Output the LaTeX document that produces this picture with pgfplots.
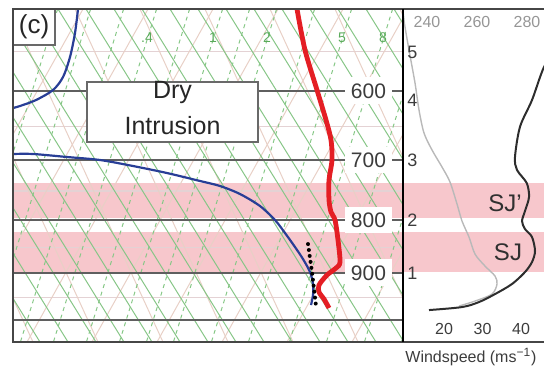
\documentclass[border=0pt]{standalone}
\usepackage{fontspec}
\setmainfont{Liberation Sans}
\usepackage{pgfplots}
\pgfplotsset{compat=1.18}
\definecolor{bandpink}{RGB}{247,199,204}
\definecolor{tred}{RGB}{228,30,36}
\definecolor{tdblue}{RGB}{40,62,150}
\definecolor{gsolid}{RGB}{135,198,135}
\definecolor{gdash}{RGB}{135,200,135}
\definecolor{tanc}{RGB}{232,208,198}
\definecolor{lightp}{RGB}{228,210,212}
\definecolor{plinec}{RGB}{95,95,95}
\definecolor{framec}{RGB}{70,70,70}
\definecolor{boxgray}{RGB}{105,105,105}
\definecolor{labc}{RGB}{60,60,60}
\definecolor{thetagray}{RGB}{185,185,185}
\definecolor{tickgray}{RGB}{150,150,150}
\definecolor{windc}{RGB}{45,45,45}
\definecolor{mrgreen}{RGB}{90,170,90}
\begin{document}
\begin{tikzpicture}[x=1pt,y=1pt]
\path[use as bounding box] (0,0) rectangle (272,183.5);
% ---------------- left panel (thermodynamic diagram) ----------------
\begin{axis}[at={(6.5pt,12.5pt)}, anchor=south west, scale only axis,
  width=195pt, height=166.5pt, xmin=13, xmax=403,
  ymode=log, ymin=500, ymax=1050, y dir=reverse,
  axis line style={draw=none}, ticks=none, clip mode=individual,
  unbounded coords=jump]
\fill[bandpink] (axis cs:13,736) rectangle (axis cs:403,797);
\fill[bandpink] (axis cs:13,821) rectangle (axis cs:403,899);
\draw[lightp, line width=0.6pt] (axis cs:13,550) -- (axis cs:403,550);
\draw[lightp, line width=0.6pt] (axis cs:13,650) -- (axis cs:403,650);
\draw[lightp, line width=0.6pt] (axis cs:13,750) -- (axis cs:403,750);
\draw[lightp, line width=0.6pt] (axis cs:13,850) -- (axis cs:403,850);
\draw[lightp, line width=0.6pt] (axis cs:13,950) -- (axis cs:403,950);
% tan lines "/"
\addplot[tanc, line width=0.5pt] coordinates {
(18,500) (-168,1050) (0,nan)
(83,500) (-103,1050) (0,nan)
(148,500) (-38,1050) (0,nan)
(213,500) (27,1050) (0,nan)
(278,500) (92,1050) (0,nan)
(343,500) (157,1050) (0,nan)
(408,500) (222,1050) (0,nan)
(473,500) (287,1050) (0,nan)
(538,500) (352,1050) (0,nan)
(603,500) (417,1050)};
% tan lines "\"
\addplot[tanc, line width=0.5pt] coordinates {
(-120,500) (33,1050) (0,nan)
(-55,500) (98,1050) (0,nan)
(10,500) (163,1050) (0,nan)
(75,500) (228,1050) (0,nan)
(140,500) (293,1050) (0,nan)
(205,500) (358,1050) (0,nan)
(270,500) (423,1050) (0,nan)
(335,500) (488,1050) (0,nan)
(400,500) (553,1050)};
% green solid lines
\addplot[gsolid, line width=0.5pt] coordinates {
(-166,500) (40,1050) (0,nan)
(-138,500) (68,1050) (0,nan)
(-110,500) (96,1050) (0,nan)
(-82,500) (124,1050) (0,nan)
(-54,500) (152,1050) (0,nan)
(-26,500) (180,1050) (0,nan)
(2,500) (208,1050) (0,nan)
(30,500) (236,1050) (0,nan)
(58,500) (264,1050) (0,nan)
(86,500) (292,1050) (0,nan)
(114,500) (320,1050) (0,nan)
(142,500) (348,1050) (0,nan)
(170,500) (376,1050) (0,nan)
(198,500) (404,1050) (0,nan)
(226,500) (432,1050) (0,nan)
(254,500) (460,1050) (0,nan)
(282,500) (488,1050) (0,nan)
(310,500) (516,1050) (0,nan)
(338,500) (544,1050) (0,nan)
(366,500) (572,1050) (0,nan)
(394,500) (600,1050)};
% green dashed lines
\addplot[gdash, line width=0.5pt, dash pattern=on 2pt off 2pt] coordinates {
(24.6,500) (-78.6,1050) (0,nan)
(57.6,500) (-45.6,1050) (0,nan)
(90.6,500) (-12.6,1050) (0,nan)
(123.6,500) (20.4,1050) (0,nan)
(156.6,500) (53.4,1050) (0,nan)
(189.6,500) (86.4,1050) (0,nan)
(222.6,500) (119.4,1050) (0,nan)
(249.6,500) (146.4,1050) (0,nan)
(276.6,500) (173.4,1050) (0,nan)
(314.6,500) (211.4,1050) (0,nan)
(351.6,500) (248.4,1050) (0,nan)
(392.6,500) (289.4,1050) (0,nan)
(429.6,500) (326.4,1050) (0,nan)
(467.6,500) (364.4,1050) (0,nan)
(504.6,500) (401.4,1050)};
% mixing ratio labels
\tikzset{mrlab/.style={text=mrgreen, font=\fontsize{7}{8}\selectfont, inner sep=0.3pt}}
\node[mrlab] at (axis cs:147,533) {.4};
\node[mrlab] at (axis cs:213,533) {1};
\node[mrlab] at (axis cs:267,533) {2};
\node[mrlab] at (axis cs:342,533) {5};
\node[mrlab] at (axis cs:383,533) {8};
% pressure lines
\draw[plinec, line width=0.8pt] (axis cs:13,600) -- (axis cs:403,600);
\draw[plinec, line width=0.8pt] (axis cs:13,700) -- (axis cs:403,700);
\draw[plinec, line width=0.8pt] (axis cs:13,800) -- (axis cs:403,800);
\draw[plinec, line width=0.8pt] (axis cs:13,900) -- (axis cs:403,900);
\draw[plinec, line width=0.8pt] (axis cs:13,1000) -- (axis cs:403,1000);
% dewpoint
\addplot[tdblue, line width=1.1pt, smooth] coordinates {
(78,500) (75,527.5) (70,556.4) (63,581.8) (53,598.9) (36,612.4) (20,620.6) (13,623.4)};
\addplot[tdblue, line width=1.1pt, smooth] coordinates {
(13,690.7) (33,690.7) (67,695.3) (100,700) (133,709.4) (167,720.6) (200,733.5)
(220,741.7) (240,755.1) (260,775.6) (275,800.1) (285,823.6) (295,849.7)
(303,872.8) (310,898.4) (313,922.7) (313,945.6) (311,967)};
% dotted line
\addplot[black, line width=2pt, line cap=round, dash pattern=on 0pt off 3pt] coordinates {
(308,844.1) (312,898.4) (316,969.1)};
% temperature
\addplot[tred, line width=2.4pt, smooth] coordinates {
(297,500) (305,547.9) (317,598.9) (326,640.3) (331,669.5) (332,700) (329,731.9)
(329,765.2) (331,786) (335,800.1) (338,836.6) (340,878.6) (336,890.4) (327,904.4)
(319,924.8) (319,939.3) (324,954.1) (329,973.4)};
% pressure labels
\tikzset{plab/.style={fill=white, inner sep=3pt, text=labc, font=\fontsize{10.5}{12}\selectfont}}
\node[plab] at (axis cs:368.5,600) {600};
\node[plab] at (axis cs:368.5,700) {700};
\node[plab] at (axis cs:368.5,800) {800};
\node[plab] at (axis cs:368.5,900) {900};
% Dry intrusion box
\draw[boxgray, line width=0.7pt, fill=white] (axis cs:87,588.3) rectangle (axis cs:258,672.5);
\node[anchor=base, text=black!85, font=\fontsize{12.5}{15}\selectfont, inner sep=0pt] at (axis cs:172.5,611) {Dry};
\node[anchor=base, text=black!85, font=\fontsize{12.5}{15}\selectfont, inner sep=0pt] at (axis cs:172.5,662) {Intrusion};
% (c) box
\draw[boxgray, line width=0.7pt, fill=white] (axis cs:13,500) rectangle (axis cs:55,541.8);
\node[text=black!85, font=\fontsize{13}{15}\selectfont, inner sep=0pt] at (axis cs:34,520.5) {(c)};
% frame
\draw[framec, line width=0.8pt] (rel axis cs:0,0) rectangle (rel axis cs:1,1);
\end{axis}
% ---------------- right panel: theta scale ----------------
\begin{axis}[at={(201.5pt,12.5pt)}, anchor=south west, scale only axis,
  width=98.5pt, height=166.5pt, xmin=230.4, xmax=309.2,
  ymode=log, ymin=500, ymax=1050, y dir=reverse,
  axis line style={draw=none}, ytick=\empty,
  xtick={240,260,280}, xticklabels={240,260,280}, xticklabel pos=upper,
  major tick length=0pt,
  xticklabel style={anchor=north, text=tickgray, font=\fontsize{8}{9}\selectfont},
  clip=false]
\fill[bandpink] (axis cs:230.4,736) rectangle (axis cs:309.2,797);
\fill[bandpink] (axis cs:230.4,821) rectangle (axis cs:309.2,899);
\addplot[thetagray, line width=0.7pt, smooth] coordinates {
(230.5,505) (230.8,512.4) (231.2,520.5) (232.8,547.9) (235.2,589.6) (236.8,626.2)
(238.8,659.1) (242.0,684.5) (246.0,711.0) (249.2,735.2) (252.0,772.1) (254.0,801.9)
(256.8,831.0) (259.2,863.1) (263.2,886.5) (267.2,906.4) (268.0,922.7) (266.0,943.6)
(259.2,958.4) (252.8,969.1)};
\end{axis}
% ---------------- right panel: windspeed ----------------
\begin{axis}[at={(201.5pt,12.5pt)}, anchor=south west, scale only axis,
  width=98.5pt, height=166.5pt, xmin=9.35, xmax=60.52,
  ymode=log, ymin=500, ymax=1050, y dir=reverse,
  axis line style={draw=none}, ytick=\empty,
  xtick={20,30,40}, xticklabels={20,30,40}, major tick length=0pt,
  xticklabel style={anchor=south, text=labc, font=\fontsize{8}{9}\selectfont},
  clip=false]
\addplot[windc, line width=1pt, smooth] coordinates {
(55.3,500) (50.1,535.8) (45.97,569.0) (42.86,612.4) (39.74,650) (38.44,695.3)
(38.96,715.7) (41.5,737) (42.08,760.2) (41.04,784.3) (40.26,801.9) (41.04,816.3)
(42.86,831.0) (43.64,857.3) (42.86,878.6) (41.04,898.4) (37.66,922.7) (33.25,943.6)
(29.09,960.5) (24.68,971.3) (16.10,977.8)};
\node[text=labc!80!black, font=\fontsize{12}{14}\selectfont] at (axis cs:35.84,770.4) {SJ'};
\node[text=labc!80!black, font=\fontsize{12}{14}\selectfont] at (axis cs:36.62,859.3) {SJ};
\tikzset{hlab/.style={anchor=west, inner sep=0pt, text=labc, font=\fontsize{9}{10}\selectfont}}
\node[hlab] at (axis cs:10.39,550.3) {5};
\node[hlab] at (axis cs:10.39,612.4) {4};
\node[hlab] at (axis cs:10.39,700) {3};
\node[hlab] at (axis cs:10.39,800) {2};
\node[hlab] at (axis cs:10.39,900) {1};
\node[anchor=base west, inner sep=0pt, text=labc, font=\fontsize{8}{9}\selectfont] at (axis cs:9.87,1097.9) {Windspeed (ms\textsuperscript{−1})};
\draw[framec, line width=0.8pt] (rel axis cs:0,0) -- (rel axis cs:1,0);
\draw[framec, line width=0.8pt] (rel axis cs:0,1) -- (rel axis cs:1,1);
\draw[black, line width=0.8pt] (rel axis cs:0,0) -- (rel axis cs:0,1);
\end{axis}
\end{tikzpicture}
\end{document}
